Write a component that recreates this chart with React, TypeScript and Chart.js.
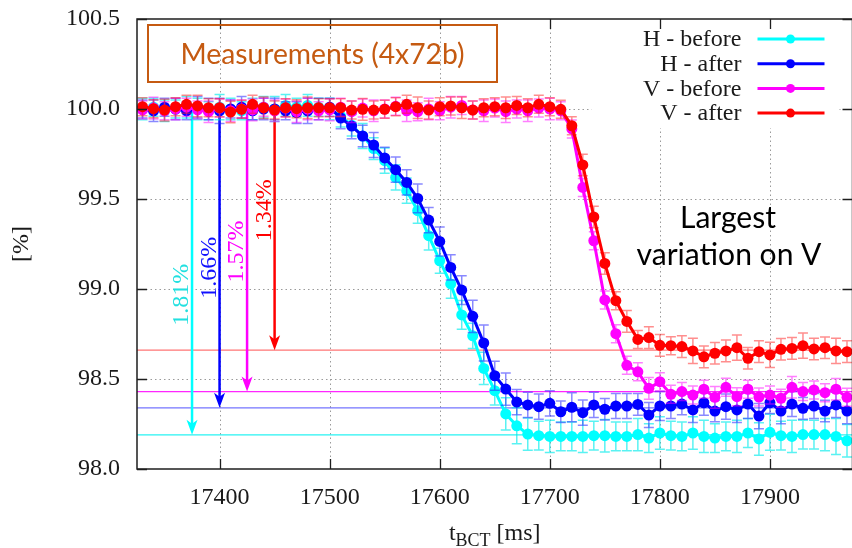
import React, { useEffect, useRef } from 'react';
import { Chart, registerables } from 'chart.js';

Chart.register(...registerables);

// ---------------- data ----------------
const times = [
  17330, 17340, 17350, 17360, 17370, 17380, 17390, 17400, 17410, 17420,
  17430, 17440, 17450, 17460, 17470, 17480, 17490, 17500, 17510, 17520,
  17530, 17540, 17550, 17560, 17570, 17580, 17590, 17600, 17610, 17620,
  17630, 17640, 17650, 17660, 17670, 17680, 17690, 17700, 17710, 17720,
  17730, 17740, 17750, 17760, 17770, 17780, 17790, 17800, 17810, 17820,
  17830, 17840, 17850, 17860, 17870, 17880, 17890, 17900, 17910, 17920,
  17930, 17940, 17950, 17960, 17970,
];

const hBefore = [
  100.0, 100.01, 99.99, 100.0, 100.01, 100.0, 99.99, 100.01, 100.0, 99.99,
  100.0, 100.01, 100.0, 100.02, 100.01, 100.02, 100.01, 100.0, 99.96, 99.91,
  99.85, 99.78, 99.713, 99.62, 99.546, 99.435, 99.296, 99.157, 99.028, 98.856,
  98.74, 98.559, 98.435, 98.306, 98.24, 98.194, 98.185, 98.181, 98.181, 98.181,
  98.181, 98.185, 98.185, 98.181, 98.181, 98.191, 98.172, 98.2, 98.185, 98.181,
  98.2, 98.181, 98.172, 98.181, 98.181, 98.2, 98.167, 98.204, 98.185, 98.181,
  98.191, 98.191, 98.191, 98.181, 98.157,
];

const hAfter = [
  100.0, 99.99, 100.01, 100.0, 99.99, 100.01, 100.0, 99.99, 100.0, 100.01,
  99.99, 100.0, 100.0, 99.99, 99.98, 99.99, 100.0, 100.01, 99.95, 99.905,
  99.85, 99.8, 99.728, 99.663, 99.592, 99.503, 99.383, 99.264, 99.12, 98.994,
  98.848, 98.7, 98.518, 98.444, 98.372, 98.356, 98.346, 98.365, 98.318, 98.343,
  98.313, 98.356, 98.332, 98.35, 98.35, 98.359, 98.3, 98.35, 98.35, 98.361,
  98.328, 98.368, 98.322, 98.346, 98.328, 98.361, 98.294, 98.368, 98.322, 98.361,
  98.337, 98.35, 98.322, 98.356, 98.322,
];

const vBefore = [
  99.995, 100.005, 99.99, 100.0, 100.01, 99.995, 99.985, 100.005, 99.99, 100.0,
  99.995, 100.01, 99.99, 100.005, 99.985, 100.0, 99.99, 99.995, 100.01, 99.985,
  100.005, 99.99, 100.0, 100.015, 99.99, 99.985, 100.0, 99.99, 100.01, 100.02,
  99.995, 99.99, 100.005, 99.985, 100.0, 99.99, 100.005, 100.0, 99.99, 99.889,
  99.564, 99.268, 98.939, 98.752, 98.576, 98.54, 98.448, 98.485, 98.415, 98.43,
  98.411, 98.443, 98.398, 98.454, 98.402, 98.443, 98.4, 98.411, 98.393, 98.454,
  98.43, 98.439, 98.424, 98.443, 98.398,
];

const vAfter = [
  100.013, 100.002, 99.994, 100.013, 100.026, 100.017, 100.007, 100.007, 99.983, 99.998,
  100.026, 100.007, 99.994, 100.007, 100.002, 100.007, 100.007, 100.007, 100.007, 99.994,
  99.998, 99.994, 99.998, 100.013, 100.026, 100.007, 99.994, 100.013, 100.017, 100.007,
  99.994, 100.007, 100.013, 100.007, 100.02, 100.007, 100.026, 100.013, 99.998, 99.907,
  99.689, 99.4, 99.142, 98.935, 98.82, 98.72, 98.73, 98.687, 98.685, 98.68,
  98.656, 98.623, 98.643, 98.656, 98.674, 98.615, 98.652, 98.634, 98.665, 98.67,
  98.685, 98.667, 98.674, 98.656, 98.652,
];

// half-lengths of the error bars
const hBeforeErr = [
  0.06, 0.05, 0.06, 0.05, 0.06, 0.06, 0.05, 0.07, 0.06, 0.05,
  0.06, 0.06, 0.07, 0.06, 0.05, 0.06, 0.05, 0.06, 0.06, 0.06,
  0.07, 0.06, 0.07, 0.07, 0.07, 0.07, 0.08, 0.07, 0.08, 0.08,
  0.07, 0.09, 0.08, 0.09, 0.1, 0.09, 0.08, 0.09, 0.08, 0.08,
  0.09, 0.08, 0.09, 0.08, 0.08, 0.09, 0.08, 0.09, 0.08, 0.08,
  0.09, 0.09, 0.08, 0.08, 0.09, 0.08, 0.09, 0.1, 0.08, 0.09,
  0.08, 0.08, 0.09, 0.1, 0.09,
];
const hAfterErr = [
  0.05, 0.06, 0.05, 0.06, 0.05, 0.06, 0.06, 0.07, 0.05, 0.06,
  0.05, 0.06, 0.06, 0.05, 0.06, 0.07, 0.06, 0.05, 0.06, 0.07,
  0.06, 0.07, 0.06, 0.07, 0.07, 0.08, 0.07, 0.08, 0.07, 0.08,
  0.09, 0.1, 0.08, 0.09, 0.07, 0.07, 0.07, 0.07, 0.06, 0.08,
  0.07, 0.07, 0.06, 0.07, 0.07, 0.06, 0.07, 0.08, 0.07, 0.06,
  0.07, 0.07, 0.06, 0.07, 0.07, 0.08, 0.07, 0.06, 0.07, 0.07,
  0.06, 0.07, 0.06, 0.07, 0.07,
];
const vBeforeErr = [
  0.05, 0.06, 0.05, 0.06, 0.05, 0.05, 0.06, 0.05, 0.06, 0.05,
  0.06, 0.05, 0.06, 0.05, 0.06, 0.06, 0.05, 0.06, 0.05, 0.06,
  0.05, 0.06, 0.05, 0.05, 0.06, 0.05, 0.06, 0.05, 0.06, 0.05,
  0.05, 0.06, 0.05, 0.06, 0.05, 0.06, 0.05, 0.06, 0.05, 0.05,
  0.05, 0.05, 0.05, 0.05, 0.05, 0.05, 0.06, 0.05, 0.05, 0.05,
  0.05, 0.05, 0.06, 0.05, 0.05, 0.05, 0.05, 0.05, 0.05, 0.06,
  0.05, 0.05, 0.05, 0.06, 0.05,
];
const vAfterErr = [
  0.05, 0.05, 0.06, 0.05, 0.05, 0.06, 0.05, 0.05, 0.06, 0.05,
  0.05, 0.06, 0.05, 0.05, 0.05, 0.06, 0.05, 0.05, 0.05, 0.05,
  0.06, 0.05, 0.05, 0.05, 0.05, 0.06, 0.05, 0.05, 0.05, 0.06,
  0.05, 0.05, 0.05, 0.06, 0.05, 0.05, 0.05, 0.05, 0.05, 0.05,
  0.06, 0.06, 0.06, 0.05, 0.06, 0.05, 0.06, 0.06, 0.05, 0.06,
  0.07, 0.06, 0.06, 0.06, 0.07, 0.06, 0.06, 0.07, 0.06, 0.06,
  0.07, 0.06, 0.06, 0.07, 0.06,
];

const seriesLabels = ['H - before', 'H - after', 'V - before', 'V - after'];
const seriesValues = [hBefore, hAfter, vBefore, vAfter];
const seriesErrors = [hBeforeErr, hAfterErr, vBeforeErr, vAfterErr];

const drops = [1.81, 1.66, 1.57, 1.34];
const dropLabels = ['1.81%', '1.66%', '1.57%', '1.34%'];
const arrowTimes = [17375, 17400, 17425, 17450];

const xTicks = [17400, 17500, 17600, 17700, 17800, 17900];
const yTicks = [98.0, 98.5, 99.0, 99.5, 100.0, 100.5];
const xRange = [17325, 17975];
const yRange = [98.0, 100.5];

const boxText = 'Measurements (4x72b)';
const noteLines = ['Largest', 'variation on V'];

// ---------------- styles ----------------
const lineColors = ['#00FFFF', '#0000FF', '#FF00FF', '#FF0000'];
const errColors = [
  'rgba(0,235,235,0.65)',
  'rgba(40,40,255,0.55)',
  'rgba(255,0,255,0.5)',
  'rgba(255,30,30,0.5)',
];
const levelColors = [
  'rgba(0,240,240,0.85)',
  'rgba(70,70,255,0.75)',
  'rgba(255,0,255,0.85)',
  'rgba(255,70,70,0.75)',
];
const labelColors = ['#22e0e0', '#1010ff', '#ff00ff', '#ff0000'];
const SERIF = "'Liberation Serif', 'DejaVu Serif', serif";
const SANS = "Lato, 'Open Sans', sans-serif";
const ORANGE = '#C55A11';

function fitFont(ctx: CanvasRenderingContext2D, text: string, family: string, width: number) {
  ctx.font = `100px ${family}`;
  const w = ctx.measureText(text).width;
  return (100 * width) / w;
}

const decor = {
  id: 'decor',
  beforeDatasetsDraw(chart: any) {
    const { ctx, chartArea: a, scales } = chart;
    const x = scales.x;
    const y = scales.y;
    ctx.save();
    // dotted grid
    ctx.strokeStyle = '#9a9a9a';
    ctx.lineWidth = 1;
    ctx.setLineDash([1.5, 3]);
    for (const t of xTicks) {
      const px = Math.round(x.getPixelForValue(t)) + 0.5;
      ctx.beginPath();
      ctx.moveTo(px, a.top);
      ctx.lineTo(px, a.bottom);
      ctx.stroke();
    }
    for (const v of yTicks) {
      if (v <= yRange[0] || v >= yRange[1]) continue;
      const py = Math.round(y.getPixelForValue(v)) + 0.5;
      ctx.beginPath();
      ctx.moveTo(a.left, py);
      ctx.lineTo(a.right, py);
      ctx.stroke();
    }
    ctx.setLineDash([]);
    // legend background (opaque key box)
    ctx.fillStyle = '#ffffff';
    ctx.fillRect(a.right - 261, a.top + 1, 248, 108);
    // level lines
    for (let i = 0; i < drops.length; i++) {
      const py = y.getPixelForValue(100 - drops[i]);
      ctx.strokeStyle = levelColors[i];
      ctx.lineWidth = 1.2;
      ctx.beginPath();
      ctx.moveTo(a.left, py);
      ctx.lineTo(a.right, py);
      ctx.stroke();
    }
    // arrows
    for (let i = 0; i < drops.length; i++) {
      const px = x.getPixelForValue(arrowTimes[i]);
      const yTop = y.getPixelForValue(100);
      const yTip = y.getPixelForValue(100 - drops[i]);
      ctx.strokeStyle = lineColors[i];
      ctx.fillStyle = lineColors[i];
      ctx.lineWidth = 2.5;
      ctx.beginPath();
      ctx.moveTo(px, yTop);
      ctx.lineTo(px, yTip - 8);
      ctx.stroke();
      ctx.beginPath();
      ctx.moveTo(px, yTip);
      ctx.lineTo(px - 5.5, yTip - 15);
      ctx.lineTo(px, yTip - 11);
      ctx.lineTo(px + 5.5, yTip - 15);
      ctx.closePath();
      ctx.fill();
      // label
      ctx.save();
      ctx.translate(px - 10, yTip - 109);
      ctx.rotate(-Math.PI / 2);
      ctx.font = `24px ${SERIF}`;
      ctx.fillStyle = labelColors[i];
      ctx.textAlign = 'left';
      ctx.textBaseline = 'middle';
      ctx.fillText(dropLabels[i], 0, 0);
      ctx.restore();
    }
    ctx.restore();
  },
  beforeDatasetDraw(chart: any, args: any) {
    const i = args.index;
    const { ctx, scales } = chart;
    const x = scales.x;
    const y = scales.y;
    const vals = seriesValues[i];
    const errs = seriesErrors[i];
    ctx.save();
    ctx.strokeStyle = errColors[i];
    ctx.lineWidth = 1.5;
    for (let k = 0; k < times.length; k++) {
      const px = x.getPixelForValue(times[k]);
      const y1 = y.getPixelForValue(vals[k] + errs[k]);
      const y2 = y.getPixelForValue(vals[k] - errs[k]);
      ctx.beginPath();
      ctx.moveTo(px, y1);
      ctx.lineTo(px, y2);
      ctx.moveTo(px - 5, y1);
      ctx.lineTo(px + 5, y1);
      ctx.moveTo(px - 5, y2);
      ctx.lineTo(px + 5, y2);
      ctx.stroke();
    }
    ctx.restore();
  },
  afterDraw(chart: any) {
    const { ctx, chartArea: a, scales } = chart;
    const x = scales.x;
    const y = scales.y;
    ctx.save();
    // frame
    ctx.strokeStyle = '#1e1e1e';
    ctx.lineWidth = 1.5;
    ctx.strokeRect(a.left, a.top, a.right - a.left, a.bottom - a.top);
    // inward ticks
    ctx.lineWidth = 1.3;
    ctx.beginPath();
    for (const t of xTicks) {
      const px = Math.round(x.getPixelForValue(t)) + 0.5;
      ctx.moveTo(px, a.bottom);
      ctx.lineTo(px, a.bottom - 10);
      ctx.moveTo(px, a.top);
      ctx.lineTo(px, a.top + 10);
    }
    for (const v of yTicks) {
      const py = Math.round(y.getPixelForValue(v)) + 0.5;
      ctx.moveTo(a.left, py);
      ctx.lineTo(a.left + 10, py);
      ctx.moveTo(a.right, py);
      ctx.lineTo(a.right - 10, py);
    }
    ctx.stroke();

    // legend
    ctx.font = `24px ${SERIF}`;
    ctx.textAlign = 'right';
    ctx.textBaseline = 'middle';
    for (let i = 0; i < seriesLabels.length; i++) {
      const ly = a.top + 20 + i * 24.7;
      ctx.fillStyle = '#1a1a1a';
      ctx.fillText(seriesLabels[i], a.right - 111, ly + 1);
      ctx.strokeStyle = lineColors[i];
      ctx.lineWidth = 3;
      ctx.beginPath();
      ctx.moveTo(a.right - 95, ly);
      ctx.lineTo(a.right - 28, ly);
      ctx.stroke();
      ctx.fillStyle = lineColors[i];
      ctx.beginPath();
      ctx.arc(a.right - 62, ly, 4.5, 0, Math.PI * 2);
      ctx.fill();
    }

    // axis titles
    ctx.fillStyle = '#1a1a1a';
    ctx.textBaseline = 'alphabetic';
    ctx.textAlign = 'left';
    const mainFont = `24px ${SERIF}`;
    const subFont = `18px ${SERIF}`;
    ctx.font = mainFont;
    const wT = ctx.measureText('t').width;
    const wRest = ctx.measureText(' [ms]').width;
    ctx.font = subFont;
    const wSub = ctx.measureText('BCT').width;
    const total = wT + wSub + wRest;
    let tx = (a.left + a.right) / 2 - total / 2;
    const baseY = 540;
    ctx.font = mainFont;
    ctx.fillText('t', tx, baseY);
    tx += wT;
    ctx.font = subFont;
    ctx.fillText('BCT', tx, baseY + 6);
    tx += wSub;
    ctx.font = mainFont;
    ctx.fillText(' [ms]', tx, baseY);

    ctx.save();
    ctx.translate(22, (a.top + a.bottom) / 2);
    ctx.rotate(-Math.PI / 2);
    ctx.textAlign = 'center';
    ctx.textBaseline = 'middle';
    ctx.font = mainFont;
    ctx.fillText('[%]', 0, 0);
    ctx.restore();

    // Measurements box
    ctx.strokeStyle = ORANGE;
    ctx.lineWidth = 2;
    ctx.strokeRect(148, 25, 349, 57);
    const fs = fitFont(ctx, boxText, SANS, 284);
    ctx.font = `${fs}px ${SANS}`;
    ctx.fillStyle = ORANGE;
    ctx.textAlign = 'center';
    ctx.textBaseline = 'alphabetic';
    ctx.fillText(boxText, 322.5, 63.5);

    // note text
    const fs2 = fitFont(ctx, noteLines[1], SANS, 185);
    ctx.font = `${fs2}px ${SANS}`;
    ctx.fillStyle = '#000000';
    ctx.fillText(noteLines[0], 728, 228);
    ctx.fillText(noteLines[1], 729, 265);
    ctx.restore();
  },
};

export default function App() {
  const ref = useRef<HTMLCanvasElement | null>(null);
  useEffect(() => {
    if (!ref.current) return;
    const orders = [3, 2, 1, 0];
    const chart = new Chart(ref.current, {
      type: 'line',
      data: {
        datasets: seriesLabels.map((label, i) => ({
          label,
          data: times.map((t, k) => ({ x: t, y: seriesValues[i][k] })),
          borderColor: lineColors[i],
          backgroundColor: lineColors[i],
          pointBackgroundColor: lineColors[i],
          borderWidth: 3,
          pointRadius: 5.5,
          pointBorderWidth: 0,
          pointHoverRadius: 5.5,
          tension: 0,
          fill: false,
          order: orders[i],
        })),
      },
      options: {
        responsive: false,
        devicePixelRatio: 1,
        animation: false,
        layout: { padding: { top: 19, right: 5, left: 0, bottom: 0 } },
        plugins: {
          legend: { display: false },
          tooltip: { enabled: false },
          title: { display: false },
        },
        scales: {
          x: {
            type: 'linear',
            min: xRange[0],
            max: xRange[1],
            grid: { display: false, drawTicks: false },
            border: { display: false },
            afterBuildTicks: (s: any) => {
              s.ticks = xTicks.map((v) => ({ value: v }));
            },
            afterFit: (s: any) => {
              s.height = 79;
              s.paddingLeft = 0;
              s.paddingRight = 0;
              s.paddingTop = 0;
              s.paddingBottom = 0;
            },
            ticks: {
              autoSkip: false,
              maxRotation: 0,
              padding: 14,
              color: '#1a1a1a',
              font: { family: SERIF, size: 24 },
              callback: (v: any) => String(v),
            },
          },
          y: {
            type: 'linear',
            min: yRange[0],
            max: yRange[1],
            grid: { display: false, drawTicks: false },
            border: { display: false },
            afterBuildTicks: (s: any) => {
              s.ticks = yTicks.map((v) => ({ value: v }));
            },
            afterFit: (s: any) => {
              s.width = 137;
              s.paddingLeft = 0;
              s.paddingRight = 0;
              s.paddingTop = 0;
              s.paddingBottom = 0;
            },
            ticks: {
              autoSkip: false,
              padding: 17,
              color: '#1a1a1a',
              font: { family: SERIF, size: 24 },
              callback: (v: any) => Number(v).toFixed(1),
            },
          },
        },
      },
      plugins: [decor],
    } as any);
    return () => chart.destroy();
  }, []);
  return (
    <div
      style={{
        position: 'absolute',
        left: 0,
        top: 0,
        width: 852,
        height: 548,
        overflow: 'hidden',
        background: '#ffffff',
      }}
    >
      <canvas
        ref={ref}
        width={858}
        height={548}
        style={{ display: 'block', width: 858, height: 548 }}
      />
    </div>
  );
}
